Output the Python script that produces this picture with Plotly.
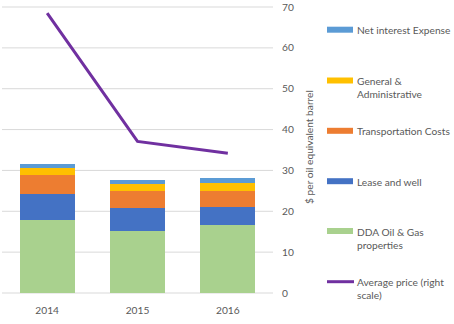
import plotly.graph_objects as go

years = ["2014", "2015", "2016"]
dda = [17.9, 15.2, 16.7]
lease = [6.4, 5.6, 4.4]
transport = [4.65, 4.1, 3.9]
gna = [1.7, 1.8, 2.0]
interest = [0.95, 0.9, 1.2]
avg_price = [68.5, 37.1, 34.2]
y_ticks = [0, 10, 20, 30, 40, 50, 60, 70]

names = ["DDA Oil & Gas<br>properties", "Lease and well", "Transportation Costs",
         "General &<br>Administrative", "Net interest Expense"]
colors = ["#A9D18E", "#4472C4", "#ED7D31", "#FFC000", "#5B9BD5"]
series = [dda, lease, transport, gna, interest]
line_name = "Average price (right<br>scale)"
line_color = "#7030A0"

W, H = 454, 324
L, R, T, B = 2, 273, 0, 294
PPU = 286.0 / 70.0
YMIN = -1.0 / PPU
YMAX = 70.0 + 7.0 / PPU
font_color = "#595959"
grid_color = "#D9D9D9"
FONT = "Lato, 'Open Sans', sans-serif"
FS = 10.2

fig = go.Figure()
for n, c, s in zip(names, colors, series):
    fig.add_trace(go.Bar(x=years, y=s, name=n, marker=dict(color=c, line=dict(width=0)),
                         showlegend=False))
fig.add_trace(go.Scatter(x=years, y=avg_price, name=line_name, mode="lines",
                         line=dict(color=line_color, width=3), showlegend=False))


def px(x):
    return (x - L) / (R - L)


def py(y):
    return (B - y) / (B - T)


shapes = []
annotations = []
# horizontal gridlines on the value axis
for v in y_ticks:
    shapes.append(dict(type="line", xref="paper", yref="y", x0=0, x1=1, y0=v, y1=v,
                       layer="above" if v == max(y_ticks) else "below",
                       line=dict(color=grid_color, width=1)))

# manual legend (top to bottom)
legend_items = [(names[4], colors[4], 29.7), (names[3], colors[3], 80.5),
                (names[2], colors[2], 130.8), (names[1], colors[1], 181.2),
                (names[0], colors[0], 231.0)]
for n, c, yc in legend_items:
    shapes.append(dict(type="rect", xref="paper", yref="paper", x0=px(327), x1=px(353),
                       y0=py(yc + 3), y1=py(yc - 3), fillcolor=c, line=dict(width=0)))
    annotations.append(dict(text=n, xref="paper", yref="paper", x=px(355), y=py(yc - 7.5),
                            xanchor="left", yanchor="top", align="left", showarrow=False,
                            font=dict(size=FS, color=font_color, family=FONT)))
yc = 281.7
shapes.append(dict(type="line", xref="paper", yref="paper", x0=px(327), x1=px(354),
                   y0=py(yc), y1=py(yc), line=dict(color=line_color, width=3)))
annotations.append(dict(text=line_name, xref="paper", yref="paper", x=px(355), y=py(yc - 7.5),
                        xanchor="left", yanchor="top", align="left", showarrow=False,
                        font=dict(size=FS, color=font_color, family=FONT)))

fig.update_layout(
    width=W, height=H,
    margin=dict(l=L, r=W - R, t=T, b=H - B),
    barmode="stack", bargap=0.39,
    plot_bgcolor="white", paper_bgcolor="white",
    font=dict(family=FONT, size=FS, color=font_color),
    shapes=shapes, annotations=annotations,
    xaxis=dict(showgrid=False, ticks="", showline=False, zeroline=False,
               ticklabelstandoff=9,
               tickfont=dict(size=FS, color=font_color)),
    yaxis=dict(side="right", range=[YMIN, YMAX], tickvals=y_ticks,
               showgrid=False, zeroline=False, showline=False, ticks="",
               ticklabelstandoff=8,
               tickfont=dict(size=FS, color=font_color),
               title=dict(text="$ per oil equivalent barrel", standoff=12,
                          font=dict(size=FS, color=font_color))),
)

fig.write_html("out.html")
